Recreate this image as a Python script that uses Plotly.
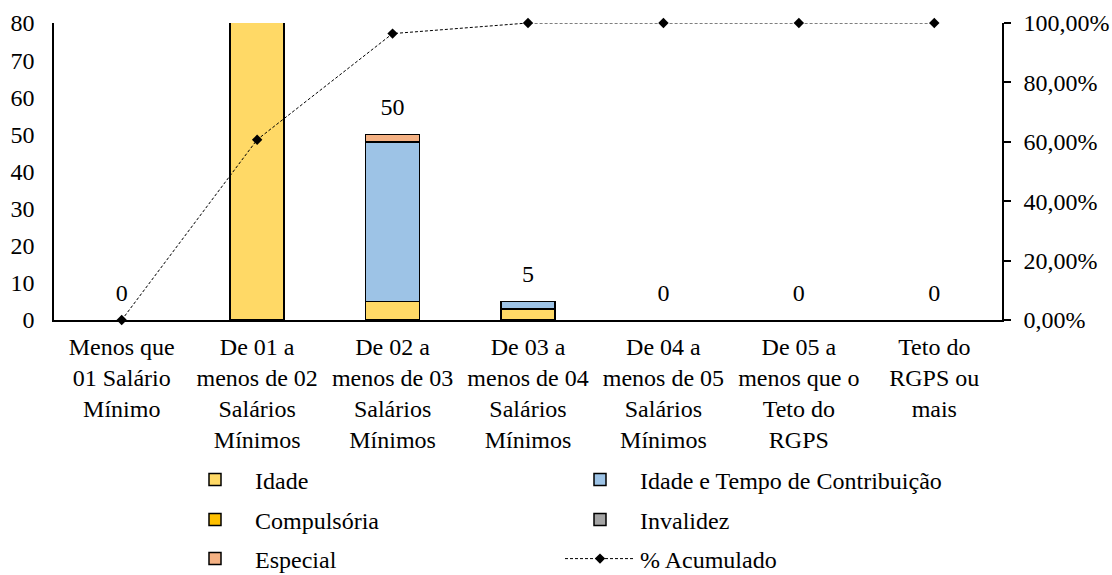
import plotly.graph_objects as go

categories = [
    "Menos que<br>01 Salário<br>Mínimo",
    "De 01 a<br>menos de 02<br>Salários<br>Mínimos",
    "De 02 a<br>menos de 03<br>Salários<br>Mínimos",
    "De 03 a<br>menos de 04<br>Salários<br>Mínimos",
    "De 04 a<br>menos de 05<br>Salários<br>Mínimos",
    "De 05 a<br>menos que o<br>Teto do<br>RGPS",
    "Teto do<br>RGPS ou<br>mais",
]
idade = [0, 85, 5, 3, 0, 0, 0]
idade_tempo = [0, 0, 43, 2, 0, 0, 0]
compulsoria = [0, 0, 0, 0, 0, 0, 0]
invalidez = [0, 0, 0, 0, 0, 0, 0]
especial = [0, 0, 2, 0, 0, 0, 0]
totals = [0, 85, 50, 5, 0, 0, 0]
acumulado = [0.0, 0.6071, 0.9643, 1.0, 1.0, 1.0, 1.0]

Y_MAX = 80
FONT = "Liberation Serif, Times New Roman, serif"
fs = 24

def nz(vals):
    return [v if v else None for v in vals]

fig = go.Figure()
series = [
    ("Idade", idade, "#FFD966", "legend"),
    ("Idade e Tempo de Contribuição", idade_tempo, "#9DC3E6", "legend"),
    ("Compulsória", compulsoria, "#FFC000", "legend2"),
    ("Invalidez", invalidez, "#A5A5A5", "legend2"),
    ("Especial", especial, "#F4B183", "legend3"),
]
for name, vals, color, leg in series:
    fig.add_trace(go.Bar(
        x=categories, y=nz(vals), name=name, width=0.4,
        marker=dict(color=color, line=dict(color="black", width=1.5)),
        legend=leg,
    ))

fig.add_trace(go.Scatter(
    x=categories, y=totals, mode="markers+text",
    text=[str(t) if t <= Y_MAX else "" for t in totals],
    marker=dict(size=20, color="rgba(0,0,0,0)"),
    textposition="top center", textfont=dict(family=FONT, size=fs, color="black"),
    showlegend=False, cliponaxis=True, hoverinfo="skip",
))

fig.add_trace(go.Scatter(
    x=categories, y=acumulado, name="% Acumulado", yaxis="y2",
    mode="lines+markers",
    line=dict(color="black", width=1, dash="3px,2px"),
    marker=dict(symbol="diamond", size=8, color="black"),
    legend="legend3", cliponaxis=False,
))

L, R, T, B = 54, 110, 23, 255
W, H = 1112, 575
pw, ph = W - L - R, H - T - B

def px2paper(x, y):
    return (x - L) / pw, (H - B - y) / ph

leg_common = dict(orientation="h", entrywidth=300, entrywidthmode="pixels",
                  itemwidth=70, traceorder="normal",
                  font=dict(family=FONT, size=fs, color="black"),
                  xanchor="left", yanchor="middle", bgcolor="rgba(0,0,0,0)")
lx, _ = px2paper(175, 0)
_, y1 = px2paper(0, 480)
_, y2 = px2paper(0, 520)
_, y3 = px2paper(0, 559)

fig.update_layout(
    width=W, height=H,
    margin=dict(l=L, r=R, t=T, b=B, pad=0, autoexpand=False),
    plot_bgcolor="white", paper_bgcolor="white",
    barmode="stack",
    separators=",.",
    font=dict(family=FONT, size=fs, color="black"),
    legend=dict(x=lx, y=y1, **leg_common),
    legend2=dict(x=lx, y=y2, **leg_common),
    legend3=dict(x=lx, y=y3, **leg_common),
    xaxis=dict(showline=True, linecolor="black", linewidth=1.5, ticks="",
               showgrid=False, tickfont=dict(family=FONT, size=fs),
               ticklabelstandoff=4, range=[-0.5, 6.5]),
    yaxis=dict(range=[0, Y_MAX], dtick=10, showline=True, linecolor="black",
               linewidth=1.5, ticks="", showgrid=False, zeroline=False,
               tickfont=dict(family=FONT, size=fs), ticklabelstandoff=13),
    yaxis2=dict(range=[0, 1], dtick=0.2, overlaying="y", side="right",
                tickformat=".2%", showline=True, linecolor="black", linewidth=1.5,
                ticks="outside", ticklen=7, tickcolor="black", tickwidth=1.5,
                showgrid=False, zeroline=False,
                tickfont=dict(family=FONT, size=fs), ticklabelstandoff=8),
)

fig.write_html("out.html", config={"displayModeBar": False},
               post_script="document.body.style.margin='0';document.body.style.overflow='hidden';")
